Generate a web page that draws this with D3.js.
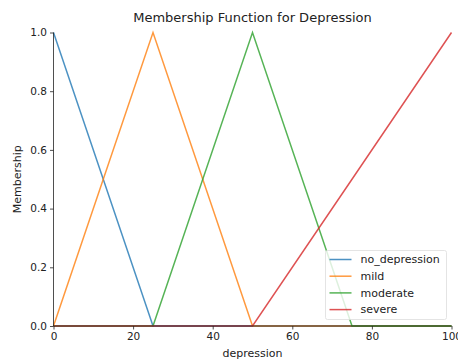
<!DOCTYPE html>
<html>
<head>
<meta charset="utf-8">
<script src="https://cdn.jsdelivr.net/npm/d3@7"></script>
<style>
  body { margin: 0; background: #fff; }
  svg { display: block; font-family: "DejaVu Sans", sans-serif; }
</style>
</head>
<body>
<svg width="458" height="360"></svg>
<script>
// universe points and membership values (triangular functions)
const xPoints = [0, 25, 50, 75, 100];
const noDepression = [1, 0, 0, 0, 0];
const mild = [0, 1, 0, 0, 0];
const moderate = [0, 0, 1, 0, 0];
const severe = [0, 0, 0, 0.5, 1];

const seriesNames = ["no_depression", "mild", "moderate", "severe"];
const seriesValues = [noDepression, mild, moderate, severe];
const colors = ["#1f77b4", "#ff7f0e", "#2ca02c", "#d62728"];

const xTicks = [0, 20, 40, 60, 80, 100];
const yTicks = [0, 0.2, 0.4, 0.6, 0.8, 1.0];

const svg = d3.select("svg");
const margin = {left: 53.5, right: 6.5, top: 32.5, bottom: 34};
const width = 458, height = 360;

const x = d3.scaleLinear().domain([0, 100]).range([margin.left, width - margin.right]);
const y = d3.scaleLinear().domain([0, 1]).range([height - margin.bottom, margin.top]);

// lines
const line = d3.line()
    .x((d, i) => x(xPoints[i]))
    .y((d) => y(d));

svg.append("g")
    .selectAll("path")
    .data(seriesValues)
    .enter()
    .append("path")
    .attr("d", (d) => line(d))
    .attr("fill", "none")
    .attr("stroke", (d, i) => colors[i])
    .attr("stroke-opacity", 0.8)
    .attr("stroke-width", 1.5);

// axes
const xAxis = svg.append("g")
    .attr("transform", `translate(0,${y(0)})`)
    .call(d3.axisBottom(x).tickValues(xTicks).tickSize(3.5).tickPadding(3).tickFormat(d3.format("d")));
const yAxis = svg.append("g")
    .attr("transform", `translate(${x(0)},0)`)
    .call(d3.axisLeft(y).tickValues(yTicks).tickSize(3.5).tickPadding(3).tickFormat(d3.format(".1f")));

[xAxis, yAxis].forEach((ax) => {
    ax.select(".domain").attr("stroke", "#222").attr("stroke-width", 0.8);
    ax.selectAll(".tick line").attr("stroke", "#222").attr("stroke-width", 0.8);
    ax.selectAll(".tick text").attr("fill", "#222").style("font-size", "10.5px")
        .style("font-family", "DejaVu Sans, sans-serif");
});
// remove outer tick on domain ends
xAxis.select(".domain").attr("d", `M${x(0)},0H${x(100)}`);
yAxis.select(".domain").attr("d", `M0,${y(0)}V${y(1)}`);

// title and labels
svg.append("text")
    .attr("x", (x(0) + x(100)) / 2)
    .attr("y", 22)
    .attr("text-anchor", "middle")
    .attr("fill", "#222")
    .style("font-size", "13px")
    .text("Membership Function for Depression");

svg.append("text")
    .attr("x", (x(0) + x(100)) / 2)
    .attr("y", 357)
    .attr("text-anchor", "middle")
    .attr("fill", "#222")
    .style("font-size", "11px")
    .text("depression");

svg.append("text")
    .attr("transform", `translate(21,${(y(0) + y(1)) / 2}) rotate(-90)`)
    .attr("text-anchor", "middle")
    .attr("fill", "#222")
    .style("font-size", "11px")
    .text("Membership");

// legend
const legend = svg.append("g").attr("transform", "translate(325.5,250.5)");
legend.append("rect")
    .attr("width", 121)
    .attr("height", 69)
    .attr("rx", 2)
    .attr("fill", "#fff")
    .attr("fill-opacity", 0.8)
    .attr("stroke", "#ddd")
    .attr("stroke-width", 0.8);

const items = legend.selectAll(".item")
    .data(seriesNames)
    .enter()
    .append("g")
    .attr("transform", (d, i) => `translate(0,${9 + i * 16.7})`);
items.append("line")
    .attr("x1", 4).attr("x2", 26)
    .attr("stroke", (d, i) => colors[i])
    .attr("stroke-opacity", 0.8)
    .attr("stroke-width", 1.5);
items.append("text")
    .attr("x", 35)
    .attr("dy", "0.35em")
    .attr("fill", "#222")
    .style("font-size", "11px")
    .text((d) => d);
</script>
</body>
</html>
